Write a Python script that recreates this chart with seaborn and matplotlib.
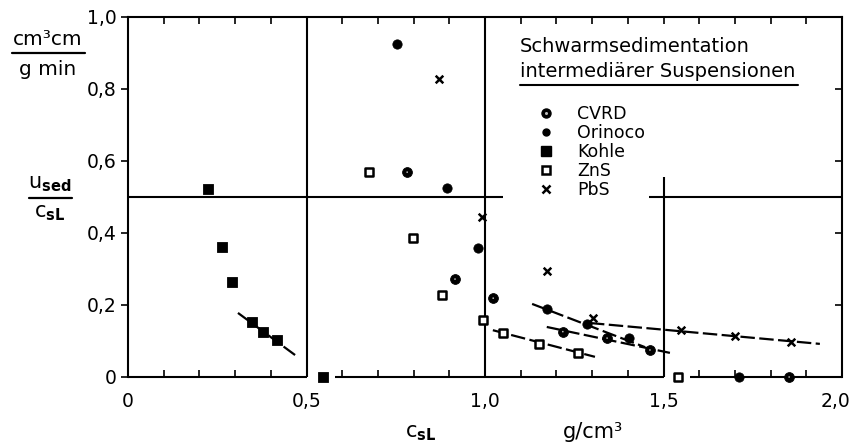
import matplotlib
matplotlib.use("Agg")
import matplotlib.pyplot as plt
from matplotlib.lines import Line2D
from matplotlib.ticker import FixedLocator, FuncFormatter
from matplotlib.transforms import ScaledTranslation
import seaborn as sns

# values (c_sL in g/cm3, u_sed/c_sL in cm3 cm/(g min))
cvrd_x = [0.782, 0.916, 1.023, 1.218, 1.342, 1.462, 1.852]
cvrd_y = [0.569, 0.272, 0.219, 0.126, 0.108, 0.075, 0.0]
orinoco_x = [0.754, 0.894, 0.980, 1.173, 1.285, 1.403, 1.712]
orinoco_y = [0.925, 0.525, 0.358, 0.190, 0.147, 0.109, 0.0]
kohle_x = [0.224, 0.263, 0.291, 0.347, 0.379, 0.417, 0.546]
kohle_y = [0.522, 0.361, 0.264, 0.153, 0.125, 0.103, 0.0]
zns_x = [0.675, 0.798, 0.880, 0.995, 1.050, 1.151, 1.260, 1.540]
zns_y = [0.569, 0.386, 0.228, 0.158, 0.122, 0.092, 0.067, 0.0]
pbs_x = [0.871, 0.992, 1.174, 1.303, 1.549, 1.700, 1.857]
pbs_y = [0.828, 0.444, 0.294, 0.164, 0.131, 0.114, 0.097]

# dashed trend lines (start, end)
kohle_fit_x, kohle_fit_y = [0.308, 0.468], [0.178, 0.061]
orinoco_fit_x, orinoco_fit_y = [1.132, 1.448], [0.203, 0.083]
cvrd_fit_x, cvrd_fit_y = [1.173, 1.518], [0.139, 0.067]
zns_fit_x, zns_fit_y = [1.022, 1.308], [0.130, 0.056]
pbs_fit_x, pbs_fit_y = [1.294, 1.938], [0.150, 0.092]

x_ticks = [0, 0.5, 1.0, 1.5, 2.0]
y_ticks = [0, 0.2, 0.4, 0.6, 0.8, 1.0]
legend_labels = ["CVRD", "Orinoco", "Kohle", "ZnS", "PbS"]

sns.set_style("ticks")
plt.rcParams["font.family"] = ["DejaVu Sans"]
plt.rcParams["mathtext.fontset"] = "dejavusans"
for key in ["text.color", "axes.labelcolor", "xtick.color", "ytick.color", "axes.edgecolor"]:
    plt.rcParams[key] = "black"

W, H = 852, 447
fig = plt.figure(figsize=(W / 100, H / 100), dpi=100)
ax = fig.add_axes([128 / W, 1 - 377 / H, 714 / W, 360 / H])
ax.set_xlim(0, 2)
ax.set_ylim(0, 1)

# frame lines inside the plot
lw = 1.5
ax.axvline(0.5, color="k", lw=lw)
ax.axvline(1.0, color="k", lw=lw)
ax.vlines(1.5, 0, 0.555, color="k", lw=lw)
ax.hlines([0.5, 0.5], [0, 1.46], [1.05, 2.0], color="k", lw=lw)
# broken bottom axis
ax.spines["bottom"].set_visible(False)
ax.hlines([0, 0, 0], [0, 0.58, 1.575], [0.5, 1.5, 2.0], color="k", lw=lw, clip_on=False)
for s in ["left", "top", "right"]:
    ax.spines[s].set_linewidth(lw)

# trend lines
for fx, fy in [(kohle_fit_x, kohle_fit_y), (orinoco_fit_x, orinoco_fit_y),
               (cvrd_fit_x, cvrd_fit_y), (zns_fit_x, zns_fit_y), (pbs_fit_x, pbs_fit_y)]:
    ax.plot(fx, fy, color="k", lw=1.6, dashes=(6.5, 2))

# data points
sns.scatterplot(x=kohle_x, y=kohle_y, ax=ax, marker="s", s=55, color="k",
                edgecolor="k", clip_on=False, zorder=5)
sns.scatterplot(x=zns_x, y=zns_y, ax=ax, marker="s", s=34, color="white",
                edgecolor="k", linewidth=1.8, clip_on=False, zorder=5)
sns.scatterplot(x=orinoco_x, y=orinoco_y, ax=ax, marker="o", s=45, color="k",
                edgecolor="k", clip_on=False, zorder=5)
sns.scatterplot(x=cvrd_x, y=cvrd_y, ax=ax, marker="o", s=50, color="k",
                edgecolor="k", clip_on=False, zorder=5)
sns.scatterplot(x=cvrd_x, y=cvrd_y, ax=ax, marker="o", s=1.5, color="#bbbbbb",
                edgecolor="none", clip_on=False, zorder=6)
sns.scatterplot(x=pbs_x, y=pbs_y, ax=ax, marker="x", s=30, color="k",
                linewidth=1.8, clip_on=False, zorder=5)

# ticks
def comma(v, pos):
    return "0" if v == 0 else f"{v:.1f}".replace(".", ",")

ax.xaxis.set_major_locator(FixedLocator(x_ticks))
ax.xaxis.set_minor_locator(FixedLocator([i / 10 for i in range(21)]))
ax.xaxis.set_major_formatter(FuncFormatter(comma))
ax.yaxis.set_major_locator(FixedLocator(y_ticks))
ax.yaxis.set_major_formatter(FuncFormatter(comma))
ax.tick_params(axis="x", which="both", direction="in", top=True, bottom=True,
               length=5, width=1.2, labelsize=13.5, pad=11)
ax.tick_params(axis="y", which="major", direction="out", left=True, right=False,
               length=5, width=1.2, labelsize=13.5, pad=3)
last = ax.xaxis.get_major_ticks()[-1].label1
last.set_transform(last.get_transform() + ScaledTranslation(-7 / 100, 0, fig.dpi_scale_trans))

ax2 = ax.twinx()
ax2.set_ylim(0, 1)
ax2.yaxis.set_major_locator(FixedLocator(y_ticks))
ax2.tick_params(axis="y", direction="in", length=5, width=1.2, labelright=False)
for s in ax2.spines.values():
    s.set_visible(False)

# legend
handles = [
    (Line2D([], [], ls="none", marker="o", ms=6.5, color="k"),
     Line2D([], [], ls="none", marker="o", ms=1.2, color="#bbbbbb")),
    Line2D([], [], ls="none", marker="o", ms=5, color="k"),
    Line2D([], [], ls="none", marker="s", ms=7.5, color="k"),
    Line2D([], [], ls="none", marker="s", ms=6, mfc="white", mec="k", mew=1.8),
    Line2D([], [], ls="none", marker="x", ms=5.5, color="k", mew=1.8),
]
ax.legend(handles, legend_labels, loc="upper left", bbox_to_anchor=(0.573, 0.755),
          frameon=False, fontsize=12.5, handlelength=1.0, handletextpad=1.3,
          labelspacing=0.05, borderpad=0, borderaxespad=0)

def px(x, y):
    return x / W, 1 - y / H

fig.text(*px(520, 52), "Schwarmsedimentation", fontsize=14, va="baseline")
fig.text(*px(520, 77), "intermediärer Suspensionen", fontsize=14, va="baseline")
fig.add_artist(Line2D([520 / W, 798 / W], [1 - 85 / H] * 2, color="k", lw=1.5))

# y axis label as stacked fractions
fig.text(*px(48, 45), "cm³cm", fontsize=14.5, ha="center", va="baseline")
fig.add_artist(Line2D([12 / W, 85 / W], [1 - 53 / H] * 2, color="k", lw=1.6))
fig.text(*px(48, 75), "g min", fontsize=14.5, ha="center", va="baseline")
fig.text(*px(50, 188), r"u$_{\mathbf{sed}}$", fontsize=15, ha="center", va="baseline")
fig.add_artist(Line2D([29 / W, 72 / W], [1 - 198 / H] * 2, color="k", lw=1.6))
fig.text(*px(50, 217), r"c$_{\mathbf{sL}}$", fontsize=15, ha="center", va="baseline")

# x axis label
fig.text(*px(405, 437), r"c$_{\mathbf{sL}}$", fontsize=15, va="baseline")
fig.text(*px(563, 438), "g/cm³", fontsize=15, va="baseline")

fig.savefig("out.png", dpi=100)
